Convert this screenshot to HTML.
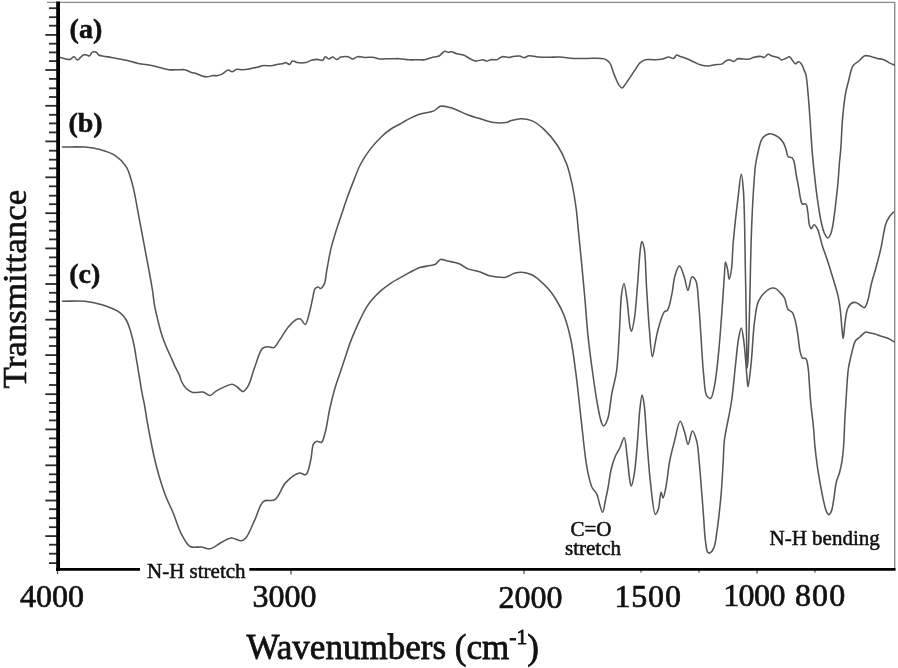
<!DOCTYPE html>
<html><head><meta charset="utf-8">
<style>
html,body{margin:0;padding:0;background:#fff;}
body{width:898px;height:668px;position:relative;overflow:hidden;font-family:"Liberation Serif",serif;color:#111;}
svg{position:absolute;left:0;top:0;filter:grayscale(1);}
.t{position:absolute;white-space:nowrap;line-height:1;}
</style></head><body>
<svg width="898" height="668" viewBox="0 0 898 668">
<g stroke="#8a8a8a" stroke-width="1.4" fill="none">
<line x1="47" y1="2.4" x2="895" y2="2.4"/>
<line x1="894.7" y1="2" x2="894.7" y2="570"/>
</g>
<g stroke="#2a2a2a" stroke-width="1.8">
<line x1="49.0" y1="8.20" x2="57" y2="8.20"/>
<line x1="49.0" y1="17.20" x2="57" y2="17.20"/>
<line x1="49.0" y1="25.70" x2="57" y2="25.70"/>
<line x1="45.3" y1="34.90" x2="57" y2="34.90"/>
<line x1="49.0" y1="43.70" x2="57" y2="43.70"/>
<line x1="49.0" y1="52.40" x2="57" y2="52.40"/>
<line x1="49.0" y1="61.10" x2="57" y2="61.10"/>
<line x1="45.3" y1="70.00" x2="57" y2="70.00"/>
<line x1="49.0" y1="78.90" x2="57" y2="78.90"/>
<line x1="49.0" y1="88.30" x2="57" y2="88.30"/>
<line x1="49.0" y1="97.00" x2="57" y2="97.00"/>
<line x1="45.3" y1="105.80" x2="57" y2="105.80"/>
<line x1="49.0" y1="114.80" x2="57" y2="114.80"/>
<line x1="49.0" y1="123.40" x2="57" y2="123.40"/>
<line x1="49.0" y1="132.40" x2="57" y2="132.40"/>
<line x1="45.3" y1="141.40" x2="57" y2="141.40"/>
<line x1="49.0" y1="150.70" x2="57" y2="150.70"/>
<line x1="49.0" y1="159.70" x2="57" y2="159.70"/>
<line x1="49.0" y1="168.40" x2="57" y2="168.40"/>
<line x1="45.3" y1="177.30" x2="57" y2="177.30"/>
<line x1="49.0" y1="186.30" x2="57" y2="186.30"/>
<line x1="49.0" y1="195.70" x2="57" y2="195.70"/>
<line x1="49.0" y1="204.20" x2="57" y2="204.20"/>
<line x1="45.3" y1="213.20" x2="57" y2="213.20"/>
<line x1="49.0" y1="221.70" x2="57" y2="221.70"/>
<line x1="49.0" y1="230.70" x2="57" y2="230.70"/>
<line x1="49.0" y1="239.40" x2="57" y2="239.40"/>
<line x1="45.3" y1="248.40" x2="57" y2="248.40"/>
<line x1="49.0" y1="257.40" x2="57" y2="257.40"/>
<line x1="49.0" y1="266.30" x2="57" y2="266.30"/>
<line x1="49.0" y1="275.30" x2="57" y2="275.30"/>
<line x1="45.3" y1="284.00" x2="57" y2="284.00"/>
<line x1="49.0" y1="292.80" x2="57" y2="292.80"/>
<line x1="49.0" y1="301.80" x2="57" y2="301.80"/>
<line x1="49.0" y1="311.20" x2="57" y2="311.20"/>
<line x1="45.3" y1="319.70" x2="57" y2="319.70"/>
<line x1="49.0" y1="328.70" x2="57" y2="328.70"/>
<line x1="49.0" y1="337.40" x2="57" y2="337.40"/>
<line x1="49.0" y1="346.00" x2="57" y2="346.00"/>
<line x1="45.3" y1="355.10" x2="57" y2="355.10"/>
<line x1="49.0" y1="364.00" x2="57" y2="364.00"/>
<line x1="49.0" y1="373.00" x2="57" y2="373.00"/>
<line x1="49.0" y1="385.00" x2="57" y2="385.00"/>
<line x1="45.3" y1="394.20" x2="57" y2="394.20"/>
<line x1="49.0" y1="403.00" x2="57" y2="403.00"/>
<line x1="49.0" y1="411.90" x2="57" y2="411.90"/>
<line x1="49.0" y1="420.40" x2="57" y2="420.40"/>
<line x1="45.3" y1="429.40" x2="57" y2="429.40"/>
<line x1="49.0" y1="438.40" x2="57" y2="438.40"/>
<line x1="49.0" y1="447.40" x2="57" y2="447.40"/>
<line x1="49.0" y1="456.30" x2="57" y2="456.30"/>
<line x1="45.3" y1="465.30" x2="57" y2="465.30"/>
<line x1="49.0" y1="474.30" x2="57" y2="474.30"/>
<line x1="49.0" y1="482.20" x2="57" y2="482.20"/>
<line x1="49.0" y1="491.70" x2="57" y2="491.70"/>
<line x1="45.3" y1="500.50" x2="57" y2="500.50"/>
<line x1="49.0" y1="509.20" x2="57" y2="509.20"/>
<line x1="49.0" y1="518.20" x2="57" y2="518.20"/>
<line x1="49.0" y1="527.20" x2="57" y2="527.20"/>
<line x1="45.3" y1="536.10" x2="57" y2="536.10"/>
<line x1="49.0" y1="544.70" x2="57" y2="544.70"/>
<line x1="49.0" y1="553.70" x2="57" y2="553.70"/>
<line x1="49.0" y1="563.10" x2="57" y2="563.10"/>
</g>
<g stroke="#444" stroke-width="1.2">
<line x1="57.5" y1="569" x2="57.5" y2="574.0"/>
<line x1="291.0" y1="569" x2="291.0" y2="574.5"/>
<line x1="524.0" y1="569" x2="524.0" y2="574.0"/>
<line x1="641.0" y1="569" x2="641.0" y2="572.5"/>
<line x1="699.0" y1="569" x2="699.0" y2="572.5"/>
<line x1="757.0" y1="569" x2="757.0" y2="573.5"/>
<line x1="815.0" y1="569" x2="815.0" y2="572.5"/>
</g>
<defs><filter id="bl" x="-5%" y="-5%" width="110%" height="110%"><feGaussianBlur stdDeviation="0.35"/></filter></defs>
<g fill="none" stroke="#555" stroke-width="1.55" stroke-linejoin="round" stroke-linecap="round" filter="url(#bl)">
<path d="M59.50,57.20 C61.23,57.70 62.94,58.33 64.70,58.70 C66.44,59.06 68.42,59.77 70.00,59.40 C71.50,59.05 72.76,56.59 74.00,56.70 C75.23,56.81 76.26,59.97 77.40,60.00 C78.50,60.03 79.57,57.99 80.70,57.10 C81.80,56.23 82.99,54.98 84.10,54.70 C84.98,54.48 85.84,54.79 86.70,55.00 C87.60,55.22 88.58,56.25 89.40,56.00 C90.43,55.69 91.05,52.96 92.10,52.30 C92.91,51.79 93.98,51.70 94.80,51.80 C95.53,51.89 96.18,52.24 96.80,52.70 C97.53,53.24 97.88,54.42 98.80,55.00 C99.96,55.73 101.71,55.93 103.50,56.30 C105.80,56.77 108.50,56.90 111.50,57.40 C115.38,58.05 120.37,59.01 124.80,60.00 C129.27,61.00 133.71,62.50 138.20,63.40 C142.64,64.29 147.72,64.63 151.60,65.40 C154.63,66.00 156.82,66.71 159.60,67.40 C162.61,68.14 165.88,69.31 169.00,69.70 C172.01,70.08 175.22,69.78 178.00,69.80 C180.40,69.81 182.50,69.39 184.70,69.80 C186.97,70.23 189.28,71.73 191.40,72.40 C193.25,72.98 194.95,73.12 196.70,73.70 C198.52,74.31 200.28,75.48 202.10,76.00 C203.84,76.49 205.63,76.88 207.40,76.80 C209.20,76.72 211.12,75.66 212.80,75.50 C214.22,75.37 215.39,75.87 216.80,75.70 C218.46,75.50 220.34,74.93 222.10,74.10 C224.11,73.15 226.26,70.29 228.10,70.10 C229.53,69.95 230.73,71.76 232.10,71.70 C233.62,71.63 235.13,69.64 236.80,69.30 C238.49,68.96 240.30,69.71 242.20,69.70 C244.31,69.68 246.97,69.45 248.90,69.10 C250.42,68.83 251.46,68.32 252.90,68.00 C254.53,67.64 256.57,67.52 258.20,67.10 C259.64,66.73 260.56,65.98 262.20,65.70 C264.65,65.28 268.93,66.02 271.60,65.70 C273.64,65.45 275.02,64.77 276.90,64.40 C278.99,63.99 282.04,63.82 283.60,63.40 C284.48,63.16 284.82,62.58 285.60,62.60 C286.71,62.62 288.48,64.67 289.60,64.40 C290.71,64.13 291.35,61.37 292.30,61.00 C292.95,60.75 293.60,61.10 294.30,61.30 C295.15,61.55 295.80,62.25 297.00,62.50 C299.09,62.94 303.42,63.00 306.00,62.50 C308.07,62.09 309.48,60.81 311.40,60.30 C313.46,59.75 315.99,59.35 318.00,59.40 C319.70,59.45 321.46,60.78 322.70,60.30 C323.90,59.83 324.36,56.87 325.40,56.70 C326.38,56.54 327.53,58.92 328.70,59.00 C329.90,59.09 331.20,57.08 332.50,57.10 C333.89,57.12 335.40,59.42 336.80,59.40 C338.16,59.38 339.20,57.57 340.80,57.10 C342.81,56.50 345.98,56.27 348.10,56.70 C349.89,57.06 351.23,59.00 352.80,59.00 C354.37,59.00 355.71,57.03 357.50,56.70 C359.62,56.31 362.21,57.28 364.80,57.40 C367.73,57.54 371.75,57.01 374.20,57.40 C375.84,57.66 376.45,58.42 378.20,58.70 C381.33,59.20 387.71,58.70 391.60,58.70 C394.61,58.70 396.83,58.54 399.60,58.70 C402.61,58.88 405.90,59.62 409.00,59.80 C412.03,59.98 415.22,59.82 418.00,59.80 C420.40,59.78 422.49,60.04 424.70,59.70 C426.96,59.35 429.06,58.34 431.40,57.70 C433.94,57.00 437.12,56.86 439.40,55.70 C441.49,54.64 442.96,51.67 444.70,51.30 C446.05,51.01 447.50,52.39 448.70,52.40 C449.69,52.41 450.36,51.65 451.40,51.70 C452.90,51.78 454.88,53.15 456.80,53.70 C458.89,54.30 461.45,54.34 463.50,55.10 C465.43,55.81 466.91,57.05 468.80,58.00 C470.89,59.05 473.17,60.81 475.50,61.10 C477.84,61.39 480.73,59.56 482.80,59.70 C484.38,59.81 485.54,61.11 486.90,61.10 C488.24,61.09 489.41,59.95 490.90,59.70 C492.68,59.40 495.02,60.19 496.90,59.70 C498.79,59.20 500.26,57.09 502.20,56.70 C504.24,56.29 506.97,57.64 508.90,57.50 C510.42,57.39 511.38,56.64 512.90,56.40 C514.83,56.10 517.59,55.81 519.60,56.10 C521.33,56.35 522.74,57.76 524.30,57.70 C525.88,57.64 527.14,55.93 529.00,55.70 C531.48,55.39 534.77,56.84 538.00,57.10 C541.70,57.40 546.18,57.20 550.00,57.20 C553.49,57.20 556.43,56.95 560.00,57.10 C564.14,57.28 568.94,58.18 573.40,58.40 C577.84,58.61 582.16,58.40 586.70,58.40 C591.48,58.40 598.03,57.99 601.40,58.40 C603.21,58.62 604.17,58.71 605.50,59.40 C607.09,60.22 609.00,61.81 610.10,63.40 C611.16,64.93 611.39,66.78 612.10,68.70 C612.94,70.96 613.75,73.56 614.80,76.10 C615.95,78.91 617.29,82.73 618.80,84.80 C619.85,86.23 621.11,87.96 622.20,87.90 C623.34,87.83 624.32,85.64 625.50,84.10 C627.14,81.96 629.11,78.77 630.90,76.10 C632.68,73.44 634.53,70.49 636.20,68.10 C637.60,66.10 638.62,64.12 640.20,62.70 C641.68,61.37 643.32,60.24 645.30,59.70 C647.62,59.07 650.71,59.77 653.40,59.70 C656.08,59.63 658.82,59.75 661.40,59.30 C663.92,58.86 666.53,57.12 668.70,57.10 C670.44,57.08 672.04,58.75 673.40,58.40 C674.74,58.06 675.59,55.34 676.80,55.10 C677.84,54.89 678.80,55.91 680.10,56.40 C681.94,57.09 684.58,57.92 686.80,58.80 C689.05,59.69 691.27,60.72 693.50,61.70 C695.74,62.68 697.82,63.99 700.20,64.70 C702.70,65.45 705.65,66.04 708.20,66.00 C710.54,65.96 712.66,65.02 714.90,64.70 C717.13,64.39 719.74,64.82 721.60,64.10 C723.21,63.48 724.21,61.84 725.60,61.10 C726.88,60.42 728.28,59.64 729.60,59.70 C730.95,59.76 732.30,61.61 733.60,61.50 C734.97,61.38 736.01,59.25 737.60,58.80 C739.48,58.27 742.22,59.05 744.30,59.10 C746.12,59.14 747.85,59.41 749.40,59.10 C750.79,58.82 751.68,57.92 753.20,57.50 C755.31,56.92 758.99,56.21 761.00,56.40 C762.32,56.53 763.14,57.70 764.20,57.50 C765.51,57.25 766.74,54.38 768.10,54.20 C769.35,54.03 770.52,55.49 772.00,56.00 C773.80,56.63 776.48,56.74 778.20,57.50 C779.60,58.12 780.43,59.74 781.70,59.90 C783.02,60.06 784.65,58.84 786.00,58.30 C787.23,57.81 788.48,56.57 789.50,56.80 C790.56,57.04 791.28,58.80 792.20,59.90 C793.21,61.11 794.16,63.60 795.30,63.80 C796.29,63.97 797.46,61.75 798.50,61.80 C799.56,61.85 800.75,63.10 801.60,64.20 C802.64,65.55 803.17,67.82 803.90,69.60 C804.60,71.32 805.32,72.36 805.90,74.70 C807.06,79.39 807.59,88.74 808.30,96.50 C809.11,105.36 809.74,115.64 810.40,125.00 C811.04,134.10 811.45,142.93 812.20,151.90 C812.95,160.90 813.94,170.42 814.90,178.90 C815.75,186.48 816.55,193.24 817.60,200.40 C818.65,207.60 819.83,215.96 821.20,222.00 C822.21,226.47 823.12,230.63 824.50,233.50 C825.44,235.45 826.65,237.97 827.70,238.00 C828.65,238.03 829.75,235.98 830.50,234.50 C831.49,232.55 831.91,229.84 832.50,227.00 C833.26,223.36 833.77,219.06 834.40,214.40 C835.18,208.61 836.04,200.97 836.70,194.90 C837.28,189.60 837.75,185.20 838.20,180.00 C838.69,174.29 839.04,167.39 839.50,162.00 C839.88,157.59 840.30,155.00 840.70,150.00 C841.36,141.71 841.77,127.07 842.70,116.90 C843.50,108.16 844.52,99.02 845.70,92.60 C846.49,88.32 847.37,85.71 848.30,82.00 C849.33,77.89 850.47,72.05 851.60,69.00 C852.26,67.24 852.59,66.23 853.60,65.00 C854.83,63.51 857.03,62.45 858.80,61.00 C860.75,59.41 862.65,56.48 864.80,55.80 C866.66,55.21 868.71,56.00 870.70,56.40 C872.84,56.83 875.01,57.85 877.20,58.40 C879.38,58.95 881.66,58.91 883.80,59.70 C886.07,60.54 888.46,62.46 890.40,63.40 C891.85,64.10 893.00,64.47 894.30,65.00"/>
<path d="M62.50,147.00 C69.97,147.03 78.20,146.55 84.90,147.10 C90.42,147.55 94.97,148.15 99.90,149.50 C104.98,150.89 110.53,152.55 114.90,155.40 C119.21,158.21 123.32,162.35 126.00,166.40 C128.44,170.08 129.43,174.17 130.80,178.40 C132.27,182.93 133.27,187.64 134.40,192.80 C135.69,198.72 136.80,205.61 138.00,212.00 C139.20,218.38 140.40,224.72 141.60,231.10 C142.80,237.49 144.00,243.90 145.20,250.30 C146.40,256.70 147.78,263.98 148.80,269.50 C149.57,273.67 150.16,276.87 150.80,280.50 C151.43,284.04 152.03,287.22 152.60,291.00 C153.27,295.39 153.65,300.52 154.50,305.30 C155.37,310.19 156.84,315.97 157.80,320.00 C158.47,322.83 158.93,324.71 159.60,327.20 C160.32,329.90 161.05,332.73 162.00,335.60 C163.03,338.71 164.26,341.93 165.60,345.20 C167.04,348.71 168.80,352.40 170.40,356.00 C172.00,359.60 173.62,363.44 175.20,366.80 C176.61,369.79 178.26,372.51 179.40,375.20 C180.40,377.55 180.72,379.84 181.80,382.00 C182.91,384.21 184.27,386.57 186.00,388.30 C187.69,389.99 190.08,391.67 192.00,392.30 C193.48,392.79 194.71,392.52 196.30,392.50 C198.29,392.47 200.82,391.57 203.00,392.00 C205.32,392.46 207.58,395.54 209.80,395.40 C212.09,395.25 214.05,392.33 216.50,390.90 C219.23,389.31 222.68,387.56 225.50,386.40 C227.86,385.43 230.11,383.97 232.20,384.20 C234.20,384.42 236.01,386.27 237.80,387.50 C239.61,388.74 241.35,391.72 243.00,391.60 C244.72,391.47 246.37,388.90 247.90,386.40 C250.47,382.20 252.28,373.63 254.70,367.30 C257.14,360.93 259.31,351.15 262.50,348.30 C264.20,346.78 266.21,346.82 268.10,346.70 C269.98,346.59 272.08,348.28 273.80,347.60 C275.96,346.75 277.38,343.22 279.40,340.40 C282.09,336.65 285.05,330.61 288.30,326.90 C291.09,323.72 294.87,320.01 297.30,319.10 C298.60,318.62 299.60,318.59 300.70,319.10 C302.28,319.84 303.88,324.74 305.20,324.50 C307.01,324.17 308.38,316.24 309.60,312.00 C310.82,307.74 311.52,303.09 312.50,299.00 C313.39,295.31 313.77,290.33 315.20,288.50 C315.98,287.51 317.09,286.99 318.00,287.00 C318.89,287.01 319.73,288.65 320.60,288.50 C321.79,288.29 323.26,286.19 324.20,284.20 C325.66,281.11 325.76,275.86 326.70,270.90 C327.89,264.59 329.16,256.30 330.80,249.40 C332.35,242.86 334.33,236.54 336.20,230.50 C337.94,224.87 339.80,219.69 341.60,214.30 C343.40,208.92 345.04,203.67 347.00,198.20 C349.06,192.44 351.42,186.32 353.70,180.60 C355.89,175.10 357.71,169.65 360.40,164.50 C363.11,159.31 366.32,154.29 369.90,149.60 C373.51,144.86 378.12,139.85 382.00,136.20 C385.10,133.28 387.91,131.07 391.00,129.00 C393.92,127.04 397.33,125.54 400.00,124.00 C402.18,122.75 403.50,121.77 405.90,120.50 C409.43,118.63 414.65,115.80 419.30,114.20 C423.98,112.59 430.13,112.58 433.90,110.90 C436.65,109.67 437.88,106.93 440.40,106.30 C443.17,105.60 447.18,106.81 450.00,107.50 C452.33,108.07 453.87,108.87 456.20,109.80 C459.30,111.04 463.09,112.98 466.90,114.40 C471.10,115.97 475.89,117.35 480.40,118.70 C484.89,120.05 489.48,121.89 493.90,122.50 C498.00,123.07 502.81,123.05 506.00,122.50 C508.20,122.12 509.33,121.17 511.40,120.60 C514.08,119.86 517.55,118.74 520.80,118.70 C524.27,118.66 528.07,119.14 531.60,120.60 C535.66,122.28 539.60,125.34 543.50,128.90 C548.27,133.25 553.62,139.61 557.50,145.50 C561.23,151.17 564.10,157.19 566.50,163.50 C568.96,169.97 570.44,176.76 572.00,183.90 C573.69,191.61 574.98,199.87 576.10,208.20 C577.27,216.92 577.90,226.12 578.80,235.10 C579.70,244.09 580.56,252.34 581.50,262.10 C582.61,273.64 583.90,287.46 585.00,299.90 C586.07,312.02 586.75,323.85 588.00,335.80 C589.25,347.78 590.93,360.28 592.50,371.70 C593.94,382.16 595.34,392.62 597.00,401.70 C598.39,409.32 599.92,418.67 601.50,422.60 C602.18,424.30 602.79,426.00 603.60,426.00 C604.70,426.00 606.38,422.62 607.50,419.60 C609.64,413.85 610.40,401.10 612.00,392.70 C613.42,385.25 615.33,379.95 616.50,371.70 C618.14,360.17 618.63,343.23 619.50,329.80 C620.31,317.37 620.41,302.27 621.60,293.90 C622.25,289.32 623.20,283.38 624.00,283.40 C625.00,283.42 626.09,293.71 627.00,299.90 C628.15,307.76 628.86,321.63 630.00,326.80 C630.48,328.97 630.97,331.33 631.50,331.30 C632.41,331.25 633.64,323.32 634.50,317.80 C635.83,309.27 636.54,296.11 637.50,284.90 C638.51,273.20 639.35,256.49 640.40,249.00 C640.88,245.55 641.26,241.54 641.90,241.50 C642.55,241.46 643.65,245.51 644.30,249.00 C645.69,256.45 645.61,272.27 646.40,284.90 C647.29,299.03 648.24,316.74 649.40,329.80 C650.30,339.95 651.21,356.75 652.40,356.80 C653.29,356.84 654.37,346.66 655.40,341.80 C656.38,337.18 657.04,332.98 658.40,328.30 C659.94,323.03 662.19,314.21 664.40,311.80 C665.36,310.75 666.50,311.46 667.40,310.40 C669.44,307.98 670.66,299.55 671.90,293.90 C673.18,288.06 673.35,280.94 674.90,275.90 C676.10,271.99 677.98,265.88 679.50,265.90 C681.08,265.92 682.83,272.92 684.20,276.80 C685.70,281.04 686.70,290.39 688.00,290.40 C689.30,290.41 690.23,277.24 692.00,276.80 C693.10,276.53 694.78,278.55 695.80,280.70 C698.10,285.52 698.15,298.90 699.00,308.00 C699.85,317.07 700.21,325.32 700.90,335.20 C701.72,347.03 702.42,363.14 703.60,374.20 C704.48,382.44 704.47,392.11 706.70,395.70 C707.74,397.38 709.50,398.78 710.60,398.40 C712.44,397.76 713.38,390.99 714.50,385.80 C716.23,377.79 717.26,365.67 718.40,354.70 C719.67,342.45 720.62,328.69 721.60,315.70 C722.58,302.73 723.56,286.69 724.30,276.80 C724.76,270.70 724.78,262.07 725.50,262.00 C726.01,261.95 726.92,266.42 727.50,269.00 C728.19,272.09 728.54,279.28 729.20,279.30 C729.87,279.32 730.89,273.24 731.50,269.00 C732.46,262.33 732.36,252.80 733.20,243.00 C734.30,230.22 736.36,211.46 737.90,198.90 C739.05,189.50 740.31,174.30 741.30,174.30 C742.10,174.30 742.82,182.96 743.40,190.40 C744.69,207.02 744.85,245.43 745.40,271.30 C745.90,295.13 746.25,322.15 746.60,340.00 C746.82,351.39 746.81,367.98 747.20,368.00 C747.41,368.01 747.75,363.80 748.00,360.00 C748.61,350.69 748.99,329.87 749.50,311.70 C750.16,288.19 750.67,253.19 751.50,230.80 C752.09,214.89 752.73,201.94 753.50,190.00 C754.10,180.65 754.67,171.26 755.50,165.00 C756.01,161.20 756.34,159.41 757.20,155.90 C758.42,150.91 759.73,141.67 762.60,138.00 C764.52,135.54 767.35,133.95 769.80,133.70 C772.12,133.47 775.27,135.38 776.90,136.20 C777.85,136.67 778.23,136.90 779.00,137.60 C780.29,138.76 782.31,140.97 783.50,143.00 C784.74,145.11 785.43,147.79 786.20,150.10 C786.91,152.25 786.78,155.05 788.00,156.40 C789.05,157.56 791.45,157.15 792.50,158.20 C793.55,159.25 793.79,160.84 794.30,162.70 C795.07,165.49 795.34,169.65 796.00,173.50 C796.77,177.96 797.91,183.45 798.70,187.90 C799.38,191.73 799.77,195.66 800.50,198.60 C801.03,200.73 801.19,203.20 802.30,204.00 C803.18,204.63 805.02,203.31 805.90,204.00 C807.16,204.99 807.17,208.37 807.70,211.20 C808.44,215.16 808.51,222.58 809.50,225.60 C810.00,227.12 810.62,228.78 811.30,228.80 C812.09,228.83 813.00,224.75 814.00,224.70 C815.08,224.65 816.62,227.33 817.60,229.20 C818.85,231.59 819.51,235.40 820.30,238.20 C820.98,240.62 821.28,242.32 822.10,245.00 C823.32,249.00 825.47,254.53 827.20,259.80 C829.16,265.77 831.34,272.81 833.20,279.00 C834.92,284.75 836.80,290.31 838.00,295.70 C839.10,300.62 839.66,304.87 840.30,310.00 C841.04,315.92 841.43,323.95 842.00,329.20 C842.40,332.86 842.77,338.50 843.20,338.50 C843.78,338.50 844.33,327.16 845.10,322.00 C845.79,317.40 846.17,312.32 847.50,309.00 C848.44,306.66 849.55,304.56 851.10,303.50 C852.44,302.59 854.35,302.22 855.90,302.50 C857.56,302.80 859.21,304.58 860.70,305.50 C861.98,306.29 863.25,308.01 864.30,307.70 C865.75,307.28 866.77,303.48 867.80,300.50 C869.30,296.14 870.01,289.27 871.40,283.70 C872.80,278.10 874.65,272.77 876.20,267.00 C877.86,260.84 879.48,254.57 881.00,247.80 C882.69,240.29 883.89,229.46 885.80,223.90 C886.90,220.71 888.01,218.77 889.40,216.70 C890.62,214.88 892.13,213.57 893.50,212.00"/>
<path d="M62.50,301.30 C69.97,301.30 77.88,300.57 84.90,301.30 C91.26,301.96 97.06,303.19 102.90,305.10 C108.83,307.04 116.09,309.77 120.20,312.90 C123.16,315.16 124.82,317.63 126.50,320.50 C128.27,323.52 129.21,326.92 130.40,330.70 C131.83,335.25 133.15,340.89 134.20,346.00 C135.24,351.05 135.85,356.13 136.70,361.20 C137.55,366.29 138.45,371.40 139.30,376.50 C140.15,381.60 140.91,386.95 141.80,391.80 C142.62,396.24 143.58,400.06 144.40,404.50 C145.29,409.35 145.98,414.51 146.90,419.80 C147.90,425.51 148.99,431.43 150.20,437.60 C151.51,444.29 152.96,451.89 154.50,458.50 C155.91,464.53 157.25,469.78 159.00,475.70 C160.90,482.14 163.14,489.28 165.60,495.70 C167.96,501.86 170.86,507.36 173.40,513.50 C176.07,519.97 178.13,527.79 181.20,533.60 C183.82,538.55 186.35,544.42 190.10,546.50 C193.27,548.26 197.79,546.59 201.30,547.00 C204.45,547.37 207.16,549.19 210.20,548.70 C213.80,548.12 217.66,544.33 221.30,542.50 C224.68,540.80 227.91,538.27 231.30,538.00 C234.61,537.73 238.78,541.08 241.40,540.70 C243.24,540.43 244.32,539.62 245.80,538.00 C248.71,534.83 251.77,526.24 254.70,520.20 C257.70,514.01 259.42,504.39 263.60,501.30 C266.68,499.03 271.49,501.83 274.80,499.70 C279.26,496.83 281.51,486.97 285.90,482.40 C289.82,478.32 295.47,473.72 299.30,473.00 C301.77,472.53 304.15,475.57 305.90,474.60 C308.56,473.13 309.54,464.86 310.80,459.80 C312.08,454.67 311.75,446.98 313.50,444.00 C314.43,442.43 315.68,441.49 317.00,441.20 C318.34,440.90 320.27,442.96 321.50,442.30 C323.40,441.29 324.13,436.19 325.30,432.00 C327.02,425.81 328.14,415.98 329.80,408.50 C331.33,401.59 333.03,394.79 334.80,388.70 C336.35,383.38 338.05,378.83 339.70,373.90 C341.35,368.96 343.05,364.04 344.70,359.10 C346.35,354.17 347.90,348.99 349.60,344.30 C351.17,339.96 352.71,336.11 354.50,331.90 C356.39,327.45 358.53,322.67 360.70,318.30 C362.78,314.11 364.89,309.75 367.20,306.20 C369.19,303.14 371.25,300.65 373.50,298.10 C375.75,295.56 377.97,293.27 380.70,290.90 C383.83,288.19 387.68,285.36 391.40,282.90 C395.14,280.42 399.26,278.25 403.10,276.10 C406.75,274.06 410.79,271.82 413.90,270.30 C416.20,269.18 417.67,268.35 420.00,267.60 C422.88,266.67 427.18,266.11 430.00,265.50 C432.08,265.05 433.75,265.19 435.40,264.30 C437.25,263.31 438.40,260.08 440.40,259.50 C442.47,258.90 444.99,260.40 447.70,261.00 C451.13,261.77 455.80,262.39 459.30,263.80 C462.51,265.10 464.79,267.59 468.00,268.90 C471.50,270.33 476.05,270.63 479.60,271.80 C482.75,272.84 485.35,274.55 488.30,275.40 C491.15,276.23 494.09,276.60 497.00,276.90 C499.89,277.20 502.87,277.76 505.70,277.20 C508.65,276.62 511.49,274.13 514.30,273.30 C516.78,272.57 518.98,272.08 521.60,272.20 C524.71,272.34 528.72,273.35 531.70,274.70 C534.46,275.95 536.42,277.64 539.00,279.80 C542.41,282.64 546.91,286.96 550.00,290.70 C552.76,294.05 554.71,297.24 556.90,301.00 C559.34,305.19 561.72,309.45 563.80,314.80 C566.46,321.64 568.78,330.16 570.70,339.00 C572.96,349.40 574.28,361.15 575.90,373.40 C577.75,387.36 579.28,403.34 581.00,418.30 C582.72,433.24 584.44,451.98 586.20,463.10 C587.26,469.77 588.22,474.48 589.40,479.00 C590.30,482.45 590.96,485.45 592.30,488.00 C593.46,490.20 595.43,491.28 596.60,493.60 C598.10,496.58 598.70,501.46 599.80,504.80 C600.71,507.57 601.74,512.35 602.60,512.30 C603.68,512.23 604.59,504.08 605.50,500.00 C606.39,495.98 607.17,492.41 608.00,488.00 C609.01,482.62 609.71,475.47 611.00,470.00 C612.12,465.27 613.38,460.93 615.00,457.00 C616.44,453.51 618.46,450.72 620.00,447.50 C621.53,444.29 623.10,437.56 624.20,437.70 C625.63,437.88 626.13,448.87 627.00,455.30 C628.05,463.03 628.89,475.66 629.90,480.90 C630.36,483.28 630.76,486.00 631.30,486.00 C632.08,485.99 633.27,479.85 634.10,475.20 C635.55,467.05 636.54,452.23 637.50,441.10 C638.42,430.45 638.83,418.29 639.80,409.80 C640.47,403.94 641.29,395.03 642.10,395.00 C642.74,394.98 643.50,400.02 644.10,404.10 C645.30,412.25 645.86,428.34 646.90,441.10 C648.01,454.80 649.02,470.69 650.60,483.70 C651.95,494.79 653.36,514.03 655.40,514.40 C656.28,514.56 657.49,511.59 658.30,509.30 C659.69,505.37 660.05,492.39 661.10,492.30 C661.72,492.25 662.42,498.03 663.10,498.00 C664.05,497.96 665.09,491.19 666.00,486.60 C667.35,479.80 668.17,468.96 669.70,461.00 C671.06,453.92 672.76,447.71 674.50,441.10 C676.25,434.45 678.27,421.29 680.20,421.20 C681.68,421.13 683.39,428.73 684.70,432.60 C686.02,436.49 686.86,444.48 688.10,444.50 C689.42,444.52 690.86,431.17 692.40,431.10 C693.75,431.04 695.62,437.07 696.70,441.10 C698.20,446.69 698.46,454.63 699.20,461.90 C700.01,469.87 700.61,478.46 701.30,487.00 C702.02,495.91 702.70,505.21 703.40,514.30 C704.10,523.38 704.54,534.57 705.50,541.50 C706.10,545.84 706.39,550.35 707.60,552.00 C708.16,552.76 708.88,553.24 709.60,553.10 C710.84,552.86 712.68,550.31 713.80,547.90 C715.59,544.04 716.12,536.71 717.00,531.10 C717.88,525.51 718.43,520.21 719.10,514.30 C719.84,507.72 720.57,501.09 721.20,493.40 C721.97,483.98 722.65,471.33 723.20,461.90 C723.65,454.22 723.64,447.07 724.30,441.00 C724.82,436.25 725.70,432.17 726.40,428.40 C726.97,425.31 727.45,423.40 728.10,420.00 C729.10,414.76 730.60,407.66 731.70,400.00 C733.17,389.77 734.38,374.91 735.60,364.00 C736.62,354.91 737.28,345.61 738.50,339.00 C739.32,334.56 740.44,327.97 741.30,328.00 C742.29,328.03 743.20,336.85 744.00,342.80 C745.19,351.69 746.13,368.29 746.90,376.30 C747.33,380.79 747.50,386.79 748.00,386.80 C748.74,386.81 750.15,372.62 751.10,363.80 C752.38,351.93 752.91,333.44 754.50,321.90 C755.63,313.67 756.02,306.44 758.60,300.90 C760.64,296.52 764.34,292.64 767.00,290.50 C768.72,289.11 770.46,288.27 772.00,288.00 C773.21,287.79 774.26,287.90 775.40,288.40 C776.92,289.07 778.54,290.88 780.00,292.40 C781.59,294.05 783.27,295.67 784.50,298.00 C786.07,300.98 786.16,306.71 787.90,309.20 C789.11,310.93 791.19,310.91 792.40,312.60 C794.05,314.92 794.80,319.06 795.70,322.70 C796.72,326.82 797.28,331.44 798.00,336.10 C798.78,341.14 799.19,347.88 800.20,351.90 C800.85,354.49 801.28,357.10 802.50,358.10 C803.37,358.81 804.94,357.82 805.80,358.60 C807.23,359.90 807.54,364.27 808.10,367.60 C808.77,371.62 808.81,376.03 809.20,381.10 C809.70,387.63 810.17,396.70 810.80,403.50 C811.33,409.20 812.09,414.45 812.60,419.20 C813.03,423.13 813.36,426.12 813.70,430.00 C814.10,434.52 814.29,439.35 814.80,444.70 C815.42,451.17 816.31,459.12 817.30,466.10 C818.25,472.84 819.45,479.61 820.60,485.90 C821.66,491.66 822.79,497.74 823.90,502.40 C824.73,505.87 825.34,509.20 826.40,511.40 C827.10,512.85 827.99,514.69 828.80,514.70 C829.62,514.71 830.60,512.96 831.30,511.40 C832.53,508.69 833.03,503.51 833.80,499.10 C834.69,494.01 835.07,487.36 836.20,482.60 C837.09,478.84 838.55,476.15 839.50,472.70 C840.51,469.04 841.33,465.40 842.00,461.20 C842.80,456.22 843.25,450.73 843.70,444.70 C844.24,437.43 844.38,428.56 844.80,420.60 C845.21,412.77 845.73,404.75 846.20,397.30 C846.63,390.43 847.06,382.81 847.50,377.50 C847.80,373.91 847.95,371.49 848.40,368.50 C848.85,365.49 849.51,362.63 850.20,359.50 C850.96,356.06 851.84,352.01 852.80,348.70 C853.63,345.81 854.11,342.72 855.50,340.70 C856.66,339.02 858.44,338.33 860.00,337.00 C861.73,335.52 863.54,332.75 865.40,332.20 C866.89,331.76 868.44,332.61 870.00,332.90 C871.64,333.20 873.35,333.52 875.00,334.00 C876.68,334.49 878.11,335.16 880.00,335.80 C882.43,336.63 885.94,337.39 888.40,338.50 C890.51,339.45 892.13,340.70 894.00,341.80"/>
</g>
<g stroke="#000" fill="none">
<line x1="58.1" y1="1.5" x2="58.1" y2="571" stroke-width="3.8"/>
<line x1="56" y1="569.4" x2="140" y2="569.4" stroke-width="2.8"/>
<line x1="249.3" y1="569.4" x2="895.5" y2="569.4" stroke-width="2.8"/>
</g>
<g style="font-family:'Liberation Serif',serif" fill="#111" stroke="#111" stroke-width="0.5">
<text x="0" y="0" font-size="33" stroke-width="0.6" transform="translate(26.3,388.5) rotate(-90) scale(1.06,1)">Transmittance</text>
<text x="69.6" y="38.3" font-size="28" font-weight="bold">(a)</text>
<text x="68.4" y="131.6" font-size="28" font-weight="bold">(b)</text>
<text x="69.2" y="283.3" font-size="28" font-weight="bold">(c)</text>
<text x="20" y="606.5" font-size="32" stroke-width="0.7">4000</text>
<text x="252.5" y="607" font-size="32" stroke-width="0.7">3000</text>
<text x="498.5" y="608" font-size="32" stroke-width="0.7">2000</text>
<text x="614.5" y="606.5" font-size="32" stroke-width="0.7" letter-spacing="0.8">1500</text>
<text x="723.2" y="605.5" font-size="32" stroke-width="0.7" letter-spacing="-0.6">1000</text>
<text x="795" y="605.5" font-size="32" stroke-width="0.7" letter-spacing="1.1">800</text>
<text x="0" y="0" font-size="36" stroke-width="0.8" transform="translate(246.5,658.8) scale(0.974,1)">Wavenumbers (cm<tspan font-size="22" dy="-15">-1</tspan><tspan dy="15">)</tspan></text>
<text x="147" y="578" font-size="21">N-H stretch</text>
<text x="570.5" y="536" font-size="21">C=O</text>
<text x="565" y="555" font-size="21">stretch</text>
<text x="769.5" y="544.6" font-size="21">N-H bending</text>
</g>
</svg>
</body></html>
